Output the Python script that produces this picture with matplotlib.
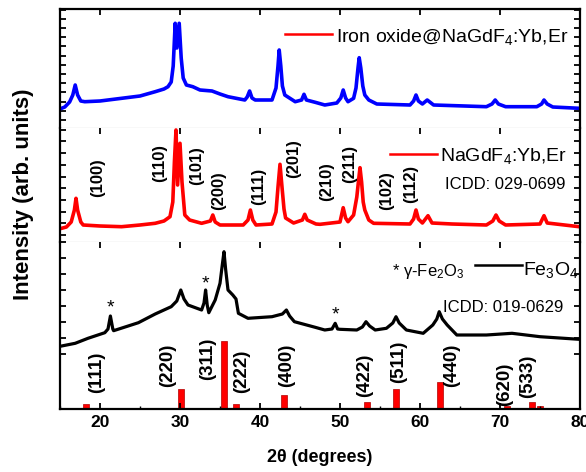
import matplotlib
matplotlib.use("Agg")
import matplotlib.pyplot as plt
from matplotlib.ticker import MultipleLocator, FixedLocator

plt.rcParams.update({
    "font.family": ["Liberation Sans", "DejaVu Sans"],
    "mathtext.fontset": "custom",
    "mathtext.rm": "Liberation Sans",
    "mathtext.it": "Liberation Sans:italic",
    "mathtext.bf": "Liberation Sans:bold",
    "axes.linewidth": 1.6,
})

# --- data (2theta in degrees, intensity in arb. units) ---
# Iron oxide@NaGdF4:Yb,Er
core_tt = [15.2, 15.6, 16.2, 16.6, 16.9, 17.2, 17.6, 18.1, 20.0, 22.7, 25.0, 26.9,
           28.0, 28.5, 28.9, 29.15, 29.4, 29.6, 29.9, 30.15, 30.4, 30.8, 31.6, 32.5,
           34.0, 35.0, 36.0, 38.1, 38.4, 38.7, 39.0, 39.4, 41.5, 42.0, 42.25, 42.4,
           42.6, 42.8, 43.1, 44.4, 45.2, 45.5, 45.8, 46.9, 48.1, 49.6, 50.1, 50.4,
           50.7, 51.0, 51.7, 52.0, 52.25, 52.4, 52.6, 52.85, 53.1, 53.6, 54.6, 58.75,
           59.2, 59.5, 59.8, 60.3, 60.9, 61.7, 68.3, 69.0, 69.4, 69.8, 70.7, 74.6,
           75.2, 75.5, 75.9, 76.6, 79.9]
core_int = [19.7, 21, 26, 33, 43, 33, 27, 26.3, 27, 29.7, 32, 36.3,
            39, 41.3, 46, 62, 104.7, 80, 104.7, 70, 50, 43, 41.3, 38,
            37, 34, 31.3, 28, 31, 37, 30, 28, 28, 40, 62, 78,
            62, 42, 33, 26.3, 28, 33.7, 28, 25.7, 23, 25, 30, 38,
            30, 26.3, 29.7, 40, 60, 70.3, 60, 42, 33, 28, 24, 23,
            27, 33, 27, 24, 28, 23, 21.3, 24, 28, 24, 21.3, 21.3,
            24, 28, 24, 21, 19.7]

# NaGdF4:Yb,Er
ngf_tt = [15.2, 15.8, 16.4, 16.8, 17.0, 17.2, 17.6, 17.9, 20.0, 22.7, 25.0, 26.9,
          28.0, 28.75, 29.1, 29.3, 29.5, 29.7, 30.0, 30.25, 30.6, 31.2, 32.7, 33.8,
          34.1, 34.4, 35.0, 37.9, 38.5, 38.8, 39.1, 39.5, 41.5, 42.0, 42.25, 42.5,
          42.75, 43.0, 43.2, 44.2, 45.3, 45.6, 45.9, 47.0, 47.5, 50.0, 50.4, 50.7,
          51.0, 51.7, 52.1, 52.3, 52.5, 52.7, 52.9, 53.1, 53.6, 54.2, 58.75, 59.2,
          59.5, 59.8, 60.3, 61.0, 61.5, 64.0, 68.3, 69.1, 69.5, 69.9, 70.7, 75.0,
          75.5, 75.9, 79.9]
ngf_int = [13.7, 15, 20, 32, 43.7, 32, 20, 17, 16, 15.3, 17, 18.7,
           21, 25.3, 40, 80, 112, 57, 98.7, 60, 27, 22, 18.7, 21,
           27, 20, 17, 17, 22, 32, 22, 17, 18, 30, 55, 77.7,
           55, 33, 24, 19, 22, 27.7, 22, 18, 17.7, 20, 34.3, 24,
           20.3, 27, 45, 60, 74.3, 60, 40, 32, 22, 18.7, 18, 23,
           32, 23, 19, 26.3, 19, 18, 17, 21, 27, 21, 17, 18,
           26.3, 19, 15.3]

# Fe3O4
fe_tt = [15.2, 16.9, 18.5, 20.6, 21.0, 21.3, 21.6, 21.7, 24.8, 26.9, 28.9, 29.6,
         30.1, 30.5, 31.0, 32.7, 33.0, 33.2, 33.4, 33.6, 34.4, 35.0, 35.3, 35.5,
         35.7, 36.0, 36.6, 37.0, 37.3, 38.5, 41.5, 42.8, 43.3, 43.7, 44.3, 46.9,
         48.1, 49.0, 49.4, 49.7, 50.0, 52.1, 52.8, 53.25, 53.7, 54.4, 55.8, 56.6,
         57.0, 57.4, 58.3, 60.4, 61.6, 62.1, 62.4, 62.8, 63.4, 64.6, 68.3, 71.5,
         75.0, 79.9]
fe_int = [63, 65.7, 70.7, 76.3, 80, 93, 80, 78.3, 86.3, 95, 102.3, 108,
          119, 110, 104, 99, 106, 119, 104, 96.3, 109, 125.7, 145, 157.3,
          140, 119, 114, 110, 95.7, 90.7, 92.3, 95, 99, 93, 87.3, 81.7,
          79, 80, 85.7, 80, 79.7, 79, 82, 87.3, 83, 79, 80.7, 86,
          92.3, 86, 79, 75.7, 84, 90, 97.3, 90, 84, 74, 74, 75.7,
          72.3, 69.7]

# Fe3O4 reference pattern, ICDD 019-0629
ref_tt = [18.3, 30.1, 35.45, 37.05, 43.05, 53.4, 56.95, 62.55, 65.7, 70.9, 73.95, 74.95]
ref_int = [7, 30, 100, 7, 20, 10, 30, 40, 2, 4, 10, 5]

ngf_hkl = ["(100)", "(110)", "(101)", "(200)", "(111)", "(201)", "(210)", "(211)", "(102)", "(112)"]
fe_hkl = ["(111)", "(220)", "(311)", "(222)", "(400)", "(422)", "(511)", "(440)", "(620)", "(533)"]
star_tt = [21.3, 33.2, 49.4]

# label layout (x in 2theta, y in panel units)
ngf_lab_x = [19.7, 27.5, 32.1, 34.8, 39.8, 44.2, 48.3, 51.25, 55.8, 58.8]
ngf_lab_y = [64, 79, 76.5, 51, 56, 83, 60, 78, 51, 58]
fe_lab_x = [19.6, 28.5, 33.5, 37.7, 43.3, 53.1, 57.3, 64.0, 70.6, 73.5]
fe_lab_y = [36.5, 44, 50, 37.3, 43.3, 34, 47.3, 43.3, 25, 32.3]
star_y = [96.3, 120.7, 89.7]

W, H = 586, 472
fig = plt.figure(figsize=(W / 100, H / 100), dpi=100)


def panel(top, bottom):
    return fig.add_axes([60 / W, 1 - bottom / H, 520 / W, (bottom - top) / H])


ax1 = panel(9, 128)
ax2 = panel(128, 242)
ax3 = panel(242, 409)

ax1.plot(core_tt, core_int, color="#0000ff", lw=2.6)
ax2.plot(ngf_tt, ngf_int, color="#ff0000", lw=2.6)
ax3.plot(fe_tt, fe_int, color="black", lw=2.3)
ax3.bar(ref_tt, [v * 0.68 for v in ref_int], width=0.75, color="#ff0000",
        edgecolor="#b00000", linewidth=0.5)

ax1.set_ylim(0, 119)
ax2.set_ylim(0, 114)
ax3.set_ylim(0, 167)

ax1.yaxis.set_major_locator(FixedLocator([8 + 9.2 * k for k in range(13)]))
ax2.yaxis.set_major_locator(FixedLocator([7 + 11.7 * k for k in range(10)]))
ax3.yaxis.set_major_locator(FixedLocator([55 + 16 * k for k in range(8)]))

for ax in (ax1, ax2, ax3):
    ax.set_xlim(15, 80)
    ax.xaxis.set_major_locator(MultipleLocator(10))
    ax.tick_params(direction="in", length=4, width=1.3, top=True, right=True,
                   labelleft=False)
    ax.tick_params(axis="x", which="minor", direction="in", length=2.5, width=1.0)

for ax in (ax1, ax2):
    ax.tick_params(axis="x", bottom=False, labelbottom=False)
ax1.spines["bottom"].set_color("#888888")
ax1.spines["bottom"].set_linewidth(0.8)
ax2.spines["top"].set_visible(False)
ax2.spines["bottom"].set_color("#888888")
ax2.spines["bottom"].set_linewidth(0.8)
ax3.spines["top"].set_visible(False)

ax3.xaxis.set_minor_locator(MultipleLocator(5))
ax3.tick_params(axis="x", which="minor", top=False)
for lab in ax3.get_xticklabels():
    lab.set_fontweight("bold")
    lab.set_fontsize(12.5)
ax3.tick_params(axis="x", pad=4)
ax3.set_xlabel("2θ (degrees)", fontsize=13, fontweight="bold", labelpad=14)
fig.text(24 / W, 1 - 194 / H, "Intensity (arb. units)", rotation=90, fontsize=16,
         fontweight="bold", ha="center", va="center")

# legend-style annotations
ax1.plot([0.433, 0.523], [0.79, 0.79], color="#ff0000", lw=1.8, transform=ax1.transAxes)
ax1.text(0.531, 0.725, "Iron oxide@NaGdF$_4$:Yb,Er", transform=ax1.transAxes,
         fontsize=14, va="baseline", ha="left")
ax2.plot([0.635, 0.725], [0.769, 0.769], color="#ff0000", lw=1.8, transform=ax2.transAxes)
ax2.text(0.731, 0.711, "NaGdF$_4$:Yb,Er", transform=ax2.transAxes,
         fontsize=14, va="baseline", ha="left")
ax2.text(0.740, 0.465, "ICDD: 029-0699", transform=ax2.transAxes,
         fontsize=12, va="baseline", ha="left")
ax3.text(0.638, 0.795, "* γ-Fe$_2$O$_3$", transform=ax3.transAxes,
         fontsize=12, va="baseline", ha="left")
ax3.plot([0.798, 0.888], [0.862, 0.862], color="black", lw=1.8, transform=ax3.transAxes)
ax3.text(0.890, 0.805, "Fe$_3$O$_4$", transform=ax3.transAxes,
         fontsize=14, va="baseline", ha="left")
ax3.text(0.737, 0.583, "ICDD: 019-0629", transform=ax3.transAxes,
         fontsize=12, va="baseline", ha="left")

for x, y, s in zip(ngf_lab_x, ngf_lab_y, ngf_hkl):
    ax2.text(x, y, s, rotation=90, fontsize=12, fontweight="bold",
             ha="center", va="center")
for x, y, s in zip(fe_lab_x, fe_lab_y, fe_hkl):
    ax3.text(x, y, s, rotation=90, fontsize=13.5, fontweight="bold",
             ha="center", va="center")
for x, y in zip(star_tt, star_y):
    ax3.text(x, y, "*", fontsize=14, ha="center", va="baseline")

fig.savefig("out.png", dpi=100)
